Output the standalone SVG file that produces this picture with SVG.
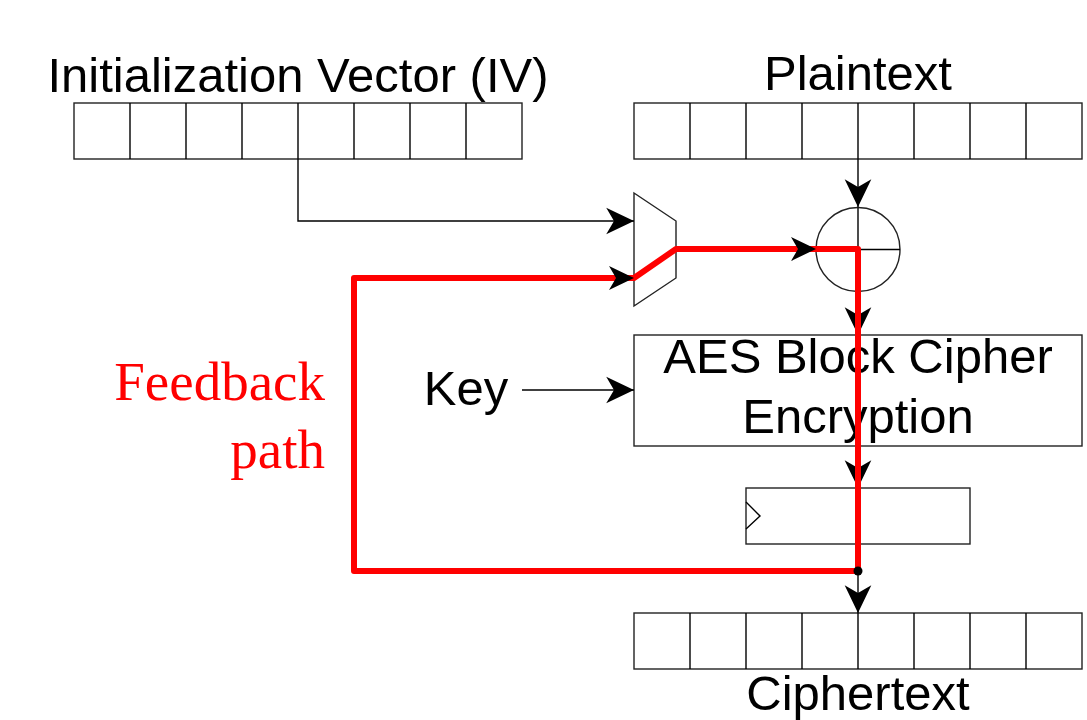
<svg xmlns="http://www.w3.org/2000/svg" width="1087" height="720" viewBox="0 0 1087 720">
<style>
.ln{fill:none;stroke:#000;stroke-width:1.4}
.bx{fill:#fff;stroke:#222;stroke-width:1.4}
.t{font-family:"Liberation Sans",Arial,sans-serif;font-size:49px;fill:#000;text-anchor:middle}
.fb{font-family:"Liberation Serif","Times New Roman",serif;font-size:55px;fill:#ff0000;text-anchor:end}
.red{fill:none;stroke:#ff0000;stroke-width:6;stroke-linejoin:round}
</style>
<defs>
<path id="ah" d="M0,0 L-25,-12 L-18,0 L-25,12 Z" fill="#000"/>
<marker id="arr" markerUnits="userSpaceOnUse" markerWidth="30" markerHeight="30" viewBox="-26 -13 27 26" refX="0" refY="0" orient="auto">
<path d="M0,0 L-25,-12 L-18,0 L-25,12 Z" fill="#000"/>
</marker>
<g id="reg">
<rect class="bx" x="0" y="0" width="448" height="56"/>
<path class="ln" d="M56,0V56M112,0V56M168,0V56M224,0V56M280,0V56M336,0V56M392,0V56" stroke="#222"/>
</g>
</defs>
<g id="iv">
<use href="#reg" x="74" y="103"/>
<text class="t" x="298" y="92">Initialization Vector (IV)</text>
</g>
<g id="plaintext">
<use href="#reg" x="634" y="103"/>
<text class="t" x="858" y="90">Plaintext</text>
</g>
<g id="ciphertext">
<use href="#reg" x="634" y="613"/>
<text class="t" x="858" y="710">Ciphertext</text>
</g>
<g id="mux">
<path class="bx" d="M634,193 L676,221 L676,278 L634,306 Z"/>
</g>
<g id="xor">
<circle class="bx" cx="858" cy="249.5" r="42"/>
<path class="ln" d="M858,207.5V291.5M816,249.5H900"/>
</g>
<g id="aes">
<rect class="bx" x="634" y="335" width="448" height="111"/>
<text class="t" x="858" y="373">AES Block Cipher</text>
<text class="t" x="858" y="433">Encryption</text>
</g>
<g id="register">
<rect class="bx" x="746" y="488" width="224" height="56"/>
<path class="ln" d="M746,502 L760,516 L746,529"/>
</g>
<g id="key">
<text class="t" x="466" y="405">Key</text>
</g>
<g id="feedback-label">
<text class="fb" x="325" y="400">Feedback</text>
<text class="fb" x="325" y="468">path</text>
</g>
<g id="connectors">
<path class="ln" d="M298,159 V221 H634" marker-end="url(#arr)"/>
<path class="ln" d="M858,159 V207" marker-end="url(#arr)"/>
<path class="ln" d="M858,292 V335" marker-end="url(#arr)"/>
<path class="ln" d="M522,390 H634" marker-end="url(#arr)"/>
<path class="ln" d="M858,446 V488" marker-end="url(#arr)"/>
<path class="ln" d="M858,571 V613" marker-end="url(#arr)"/>
<path class="red" d="M676,249 L858,249 L858,571 L354,571 L354,278 L634,278 Z"/>
<use href="#ah" transform="translate(634,278)"/>
<use href="#ah" transform="translate(816,249)"/>
<circle cx="858" cy="571" r="4.5" fill="#000"/>
</g>
</svg>
